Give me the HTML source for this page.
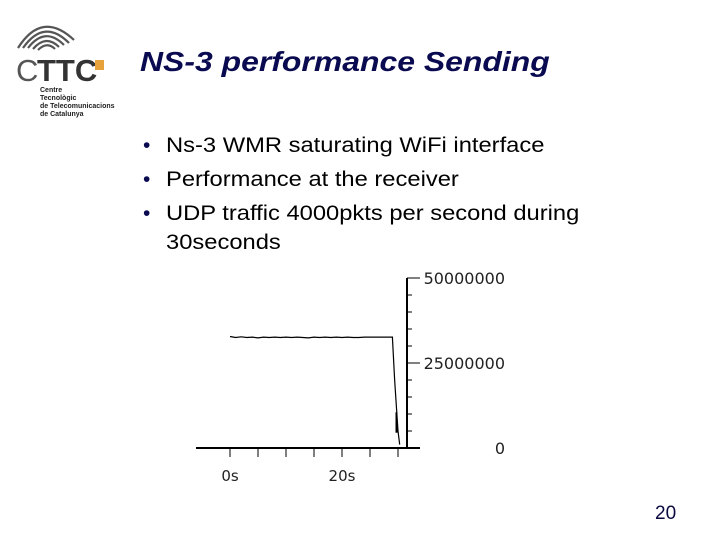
<!DOCTYPE html>
<html><head><meta charset="utf-8">
<style>
body{margin:0;width:720px;height:540px;background:#fff;position:relative;overflow:hidden;font-family:"Liberation Sans",sans-serif}
.t{position:absolute}
.b{position:absolute;left:143px;font-size:21px;color:#0a0a50}
.bt{position:absolute;left:166px;font-size:21px;color:#000;white-space:nowrap;transform:scaleX(1.13);transform-origin:0 0}
</style></head><body>
<div class="t" style="left:10px;top:14px;width:130px;height:105px">
<svg width="130" height="105">
<g fill="none" stroke="#555" stroke-width="2.2">
<path d="M8 34 Q32 -4 64 26"/><path d="M13 34 Q34 4 59 29"/><path d="M18 34 Q35 12 54 31"/><path d="M23 35 Q36 20 49 33"/><path d="M28 36 Q37 27 45 35"/>
</g>
<text x="6" y="67" font-family="Liberation Sans" font-size="31" fill="#555">C</text>
<text x="27" y="67" font-family="Liberation Sans" font-weight="bold" font-size="31" fill="#333">TTC</text>
<rect x="85" y="46" width="9" height="10" fill="#e8a23c"/>
<text x="30" y="78" font-size="7" font-weight="bold" fill="#222">Centre</text>
<text x="30" y="86" font-size="7" font-weight="bold" fill="#222">Tecnològic</text>
<text x="30" y="94" font-size="7" font-weight="bold" fill="#222">de Telecomunicacions</text>
<text x="30" y="102" font-size="7" font-weight="bold" fill="#222">de Catalunya</text>
</svg></div>
<div class="t" style="left:140px;top:46px;font-size:28px;font-weight:bold;font-style:italic;color:#0a0a50;white-space:nowrap;transform:scaleX(1.14);transform-origin:0 0">NS-3 performance Sending</div>
<div>
<div class="b" style="top:134px">•</div>
<div class="bt" style="top:134px">Ns-3 WMR saturating WiFi interface</div>
<div class="b" style="top:168px">•</div>
<div class="bt" style="top:168px">Performance at the receiver</div>
<div class="b" style="top:202px">•</div>
<div class="bt" style="top:202px">UDP traffic 4000pkts per second during</div>
<div class="bt" style="top:231px">30seconds</div>
</div>
<svg id="chart" class="t" style="left:0;top:0" width="720" height="540"></svg>
<div class="t" style="left:655px;top:503px;font-size:19px;color:#0a0a40">20</div>
<script>
const times=[0,1,2,3,4,5,6,7,8,9,10,11,12,13,14,15,16,17,18,19,20,21,22,23,24,25,26,27,28,29,29.4,29.8,30.0,30.3];
const values=[32800000,32500000,32700000,32500000,32600000,32400000,32600000,32500000,32600000,32500000,32600000,32500000,32600000,32500000,32400000,32600000,32500000,32600000,32500000,32600000,32500000,32600000,32500000,32500000,32600000,32600000,32600000,32600000,32600000,32600000,20000000,10000000,5000000,1000000];
const burstTime=[30.0];
const burstRange=[10500000,4500000];
const xTicks=[0,5,10,15,20,25,30];
const xLabels=["0s","","","","20s","",""];
const yMinor=[0,5e6,10e6,15e6,20e6,25e6,30e6,35e6,40e6,45e6,50e6];
const yLabels=[0,25000000,50000000];
const X=t=>230+t*5.6, Y=v=>448-v/50e6*170;
const s=document.getElementById('chart'),NS='http://www.w3.org/2000/svg';
function mk(tag,a){const e=document.createElementNS(NS,tag);for(const k in a)e.setAttribute(k,a[k]);s.appendChild(e);return e;}
let e=mk('line',{x1:196,y1:448,x2:420,y2:448,stroke:'#000','stroke-width':2});

e=mk('line',{x1:407,y1:Y(50e6),x2:407,y2:449,stroke:'#000','stroke-width':2});

xTicks.forEach((t,i)=>{let l=mk('line',{x1:X(t),y1:448,x2:X(t),y2:457,stroke:'#000','stroke-width':1});

if(xLabels[i]){let tx=mk('text',{x:X(t),y:481,'text-anchor':'middle','font-family':'DejaVu Sans','font-size':15,fill:'#222'});tx.textContent=xLabels[i];
}});
yMinor.forEach(v=>{let l=mk('line',{x1:407,y1:Y(v),x2:412,y2:Y(v),stroke:'#000','stroke-width':1});
});
yLabels.forEach(v=>{let l=mk('line',{x1:407,y1:Y(v),x2:420,y2:Y(v),stroke:'#000','stroke-width':1});

let tx=mk('text',{x:505,y:Y(v)+6,'text-anchor':'end','font-family':'DejaVu Sans','font-size':16,fill:'#222'});tx.textContent=String(v);
});
let p=mk('polyline',{points:times.map((t,i)=>X(t)+','+Y(values[i])).join(' '),fill:'none',stroke:'#000','stroke-width':1.2});

let b=mk('line',{x1:X(burstTime[0])-1.5,y1:Y(burstRange[0]),x2:X(burstTime[0])-1.5,y2:Y(burstRange[1]),stroke:'#000','stroke-width':2});

</script>
</body></html>
